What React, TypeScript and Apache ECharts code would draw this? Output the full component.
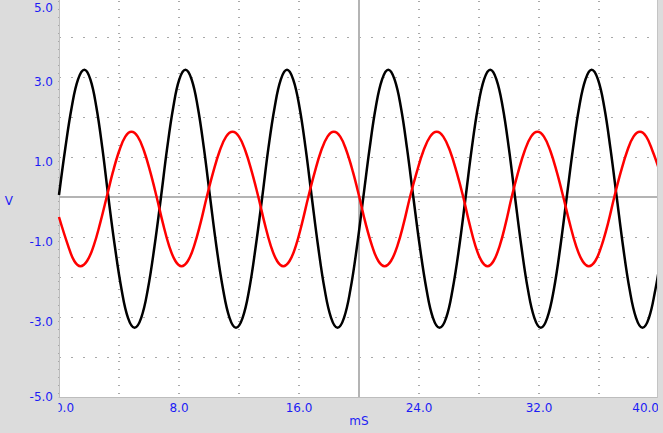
import React, { useEffect, useRef } from "react";
import * as echarts from "echarts";

// Black trace: time (ms) and voltage (V)
const blackT = [
  0.0, 0.42, 0.85, 1.27, 1.69, 2.09, 2.49, 2.89,
  3.29, 3.73, 4.17, 4.6, 5.04, 5.48, 5.92, 6.36,
  6.8, 7.21, 7.62, 8.02, 8.43, 8.84, 9.25, 9.66,
  10.07, 10.5, 10.94, 11.37, 11.8, 12.24, 12.68, 13.11,
  13.55, 13.96, 14.38, 14.79, 15.2, 15.61, 16.03, 16.44,
  16.85, 17.28, 17.71, 18.14, 18.57, 19.0, 19.43, 19.86,
  20.29, 20.71, 21.12, 21.54, 21.95, 22.37, 22.79, 23.2,
  23.62, 24.06, 24.5, 24.93, 25.37, 25.81, 26.24, 26.68,
  27.11, 27.52, 27.93, 28.34, 28.75, 29.16, 29.58, 29.99,
  30.4, 30.83, 31.26, 31.69, 32.12, 32.55, 32.99, 33.42,
  33.85, 34.27, 34.68, 35.1, 35.51, 35.93, 36.35, 36.76,
  37.18, 37.61, 38.04, 38.47, 38.9, 39.33, 39.76, 40.0,
];
const blackV = [
  0.05, 1.22, 2.25, 2.94, 3.18, 2.94, 2.25, 1.22,
  0, -1.25, -2.31, -3.02, -3.27, -3.02, -2.31, -1.25,
  0, 1.22, 2.25, 2.94, 3.18, 2.94, 2.25, 1.22,
  0, -1.25, -2.31, -3.02, -3.27, -3.02, -2.31, -1.25,
  0, 1.22, 2.25, 2.94, 3.18, 2.94, 2.25, 1.22,
  0, -1.25, -2.31, -3.02, -3.27, -3.02, -2.31, -1.25,
  0, 1.22, 2.25, 2.94, 3.18, 2.94, 2.25, 1.22,
  0, -1.25, -2.31, -3.02, -3.27, -3.02, -2.31, -1.25,
  0, 1.22, 2.25, 2.94, 3.18, 2.94, 2.25, 1.22,
  0, -1.25, -2.31, -3.02, -3.27, -3.02, -2.31, -1.25,
  0, 1.22, 2.25, 2.94, 3.18, 2.94, 2.25, 1.22,
  0, -1.25, -2.31, -3.02, -3.27, -3.02, -2.31, -1.8,
];

// Red trace
const redT = [
  0.0, 0.61, 1.02, 1.43, 1.87, 2.31, 2.74,
  3.18, 3.59, 4.01, 4.42, 4.83, 5.25, 5.67, 6.09,
  6.51, 6.93, 7.34, 7.76, 8.17, 8.59, 9.01, 9.43,
  9.85, 10.28, 10.71, 11.14, 11.57, 12.0, 12.43, 12.86,
  13.29, 13.71, 14.12, 14.54, 14.95, 15.37, 15.79, 16.2,
  16.62, 17.05, 17.47, 17.9, 18.32, 18.75, 19.17, 19.6,
  20.02, 20.44, 20.87, 21.29, 21.71, 22.13, 22.56, 22.98,
  23.4, 23.85, 24.29, 24.74, 25.18, 25.62, 26.07, 26.51,
  26.95, 27.36, 27.76, 28.17, 28.57, 28.97, 29.38, 29.78,
  30.18, 30.61, 31.04, 31.47, 31.9, 32.33, 32.76, 33.19,
  33.62, 34.05, 34.47, 34.9, 35.32, 35.75, 36.17, 36.6,
  37.02, 37.45, 37.88, 38.3, 38.73, 39.15, 39.57, 40.0,
];
const redV = [
  -0.5, -1.22, -1.6, -1.73, -1.6, -1.22, -0.66,
  0, 0.62, 1.15, 1.51, 1.63, 1.51, 1.15, 0.62,
  0, -0.66, -1.22, -1.6, -1.73, -1.6, -1.22, -0.66,
  0, 0.62, 1.15, 1.51, 1.63, 1.51, 1.15, 0.62,
  0, -0.66, -1.22, -1.6, -1.73, -1.6, -1.22, -0.66,
  0, 0.62, 1.15, 1.51, 1.63, 1.51, 1.15, 0.62,
  0, -0.66, -1.22, -1.6, -1.73, -1.6, -1.22, -0.66,
  0, 0.62, 1.15, 1.51, 1.63, 1.51, 1.15, 0.62,
  0, -0.66, -1.22, -1.6, -1.73, -1.6, -1.22, -0.66,
  0, 0.62, 1.15, 1.51, 1.63, 1.51, 1.15, 0.62,
  0, -0.66, -1.22, -1.6, -1.73, -1.6, -1.22, -0.66,
  0, 0.62, 1.15, 1.51, 1.63, 1.51, 1.15, 0.7,
];

const xLabelValues = [0, 8, 16, 24, 32, 40];
const yLabelValues = [5, 3, 1, -1, -3, -5];
const centerTime = 20;
const centerVolt = 0;

const BLUE = "#1c1cf5";
const BG = "#dcdcdc";
const FONT = "DejaVu Sans";

export default function App() {
  const ref = useRef<HTMLDivElement>(null);
  useEffect(() => {
    if (!ref.current) return;
    const chart = echarts.init(ref.current, undefined, { renderer: "svg" });
    const option: any = {
      animation: false,
      backgroundColor: BG,
      textStyle: { fontFamily: FONT },
      grid: {
        left: 59,
        top: -3,
        width: 600,
        height: 400,
        show: true,
        backgroundColor: "#ffffff",
        borderWidth: 0,
        outerBoundsMode: "none",
        containLabel: false,
      },
      xAxis: {
        type: "value",
        min: 0,
        max: 40,
        interval: 4,
        name: "mS",
        nameLocation: "middle",
        nameGap: 18,
        nameMoveOverlap: false,
        nameTextStyle: { color: BLUE, fontSize: 12, fontFamily: FONT },
        axisLine: { show: true, onZero: false, lineStyle: { color: "#bdbdbd", width: 1 } },
        axisTick: { show: false },
        axisLabel: {
          color: BLUE,
          fontSize: 12,
          fontFamily: FONT,
          margin: 5,
          alignMaxLabel: "right",
          formatter: (v: number) => {
            if (!xLabelValues.includes(v)) return "";
            if (v === 0) return "{s|" + v.toFixed(1) + "}";
            return v.toFixed(1);
          },
          rich: {
            s: { padding: [0, 0, 0, 11], color: BLUE, fontSize: 12, fontFamily: FONT },
          },
        },
        splitLine: {
          show: true,
          lineStyle: { color: "#a8a8a8", width: 2, type: [1, 7], dashOffset: 4 },
        },
      },
      yAxis: {
        type: "value",
        min: -5,
        max: 5,
        interval: 1,
        name: "{n|V}",
        nameLocation: "middle",
        nameRotate: 0,
        nameGap: 46,
        nameMoveOverlap: false,
        nameTextStyle: {
          color: BLUE,
          fontSize: 12,
          fontFamily: FONT,
          rich: { n: { padding: [8, 0, 0, 0], color: BLUE, fontSize: 12, fontFamily: FONT } },
        },
        axisLine: { show: true, onZero: false, lineStyle: { color: "#bdbdbd", width: 1 } },
        axisTick: { show: false },
        axisLabel: {
          color: BLUE,
          fontSize: 12,
          fontFamily: FONT,
          margin: 6,
          padding: [9, 0, 0, 0],
          formatter: (v: number) => {
            if (!yLabelValues.includes(v)) return "";
            const s = v.toFixed(1);
            if (v === 5) return "{t|" + s + "}";
            if (v === -5) return "{b|" + s + "}";
            return s;
          },
          rich: {
            t: { padding: [12, 0, 0, 0], color: BLUE, fontSize: 12, fontFamily: FONT },
            b: { padding: [0, 0, 9, 0], color: BLUE, fontSize: 12, fontFamily: FONT },
          },
        },
        splitLine: {
          show: true,
          lineStyle: { color: "#a8a8a8", width: 1, type: [2, 10], dashOffset: 0 },
        },
      },
      series: [
        {
          type: "line",
          data: [
            [centerTime, -5],
            [centerTime, 5],
          ],
          showSymbol: false,
          silent: true,
          lineStyle: { color: "#b4b4b4", width: 2 },
          z: 2,
        },
        {
          type: "line",
          data: [
            [0, centerVolt],
            [40, centerVolt],
          ],
          showSymbol: false,
          silent: true,
          lineStyle: { color: "#b4b4b4", width: 2 },
          z: 2,
        },
        {
          type: "line",
          data: blackT.map((t, i) => [t, blackV[i]]),
          showSymbol: false,
          smooth: 0.4,
          lineStyle: { color: "#000000", width: 2.5 },
          z: 3,
        },
        {
          type: "line",
          data: redT.map((t, i) => [t, redV[i]]),
          showSymbol: false,
          smooth: 0.4,
          lineStyle: { color: "#ff0000", width: 2.5 },
          z: 4,
        },
      ],
      graphic: [
        { type: "rect", shape: { x: 658, y: 0, width: 5, height: 433 }, style: { fill: BG }, z: 100 },
        { type: "line", shape: { x1: 657.5, y1: 0, x2: 657.5, y2: 398 }, style: { stroke: "#c4c4c4", lineWidth: 1 }, z: 100 },
        { type: "rect", shape: { x: 0, y: 401, width: 58.5, height: 20 }, style: { fill: BG }, z: 100 },
      ],
    };
    chart.setOption(option);
    return () => chart.dispose();
  }, []);
  return (
    <div
      ref={ref}
      style={{ position: "fixed", left: 0, top: 0, width: 663, height: 433 }}
    />
  );
}
